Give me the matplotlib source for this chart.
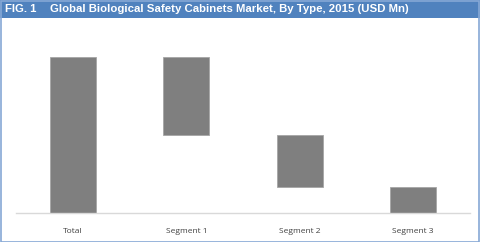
import matplotlib.pyplot as plt
from matplotlib.patches import Rectangle

# waterfall data (relative units)
categories = ["Total", "Segment 1", "Segment 2", "Segment 3"]
values = [6.0, 3.0, 2.0, 1.0]

W, H = 480, 242
fig = plt.figure(figsize=(W / 100, H / 100), dpi=100)
fig.patch.set_facecolor("white")

# header bar
fig.patches.append(Rectangle((0, 1 - 18 / H), 1, 18 / H, transform=fig.transFigure,
                             facecolor="#5082be", edgecolor="none", zorder=0))
fig.text(5 / W, 1 - 9.5 / H, "FIG. 1", color="white", fontsize=8.2, fontweight="bold",
         family="Liberation Sans", va="center", ha="left")
fig.text(50 / W, 1 - 9.5 / H, "Global Biological Safety Cabinets Market, By Type, 2015 (USD Mn)",
         color="white", fontsize=8.2, fontweight="bold", family="Liberation Sans",
         va="center", ha="left")
# outer border
fig.patches.append(Rectangle((0.5 / W, 0.5 / H), 1 - 1.5 / W, 1 - 1.5 / H, transform=fig.transFigure,
                             facecolor="none", edgecolor="#86a8d6", linewidth=1.2, zorder=5))

# axes: baseline at y=213 px, x from 16 to 470 px
ax = fig.add_axes([16 / W, (H - 213) / H, 454 / W, 183 / H])
ax.set_facecolor("none")

# waterfall bottoms
bottoms = [0]
run = values[0]
for v in values[1:]:
    run -= v
    bottoms.append(run)

x = range(len(categories))
ax.bar(x, values, bottom=bottoms, width=0.405, color="#7f7f7f", edgecolor="#a6a6a6", linewidth=0.6)

ax.set_xlim(-0.5, len(categories) - 0.5)
ax.set_ylim(0, 183 / 26)
for s in ["top", "right", "left"]:
    ax.spines[s].set_visible(False)
ax.spines["bottom"].set_color("#d9d9d9")
ax.spines["bottom"].set_linewidth(1)
ax.set_yticks([])
ax.set_xticks(list(x))
ax.set_xticklabels(categories, fontsize=6, color="#404040", family="Open Sans")
ax.tick_params(axis="x", length=0, pad=10.5)

fig.savefig("out.png", dpi=100)
